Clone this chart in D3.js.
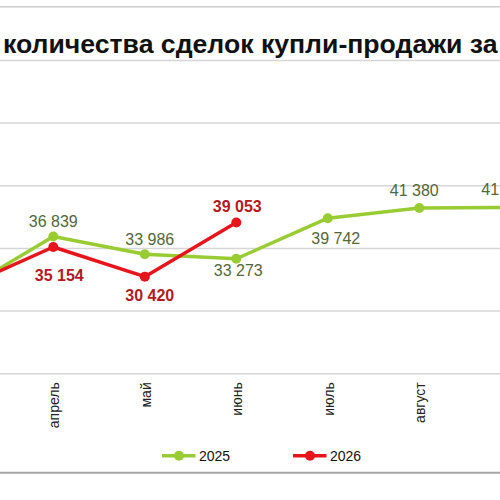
<!DOCTYPE html>
<html>
<head>
<meta charset="utf-8">
<script src="https://cdn.jsdelivr.net/npm/d3@7"></script>
<style>
  html, body { margin: 0; padding: 0; background: #fff; }
  svg { display: block; font-family: "Liberation Sans", Arial, sans-serif; }
</style>
</head>
<body>
<svg id="chart" width="500" height="500"></svg>
<script>
// ---- data (visible part of the chart) ----
const months = ["март", "апрель", "май", "июнь", "июль", "август", "сентябрь"];
const values2025 = [28100, 36839, 33986, 33273, 39742, 41380, 41470];
const values2026 = [28600, 35154, 30420, 39053, null, null, null];
const seriesNames = ["2025", "2026"];
const yTicks = [15000, 25000, 35000, 45000, 55000, 65000];
const titleText = "количества сделок купли-продажи за";

// ---- drawing ----
const svg = d3.select("#chart");
const W = 500, H = 500;

const x = d3.scalePoint().domain(months).range([-38.2, 510.8]);
const y = d3.scaleLinear().domain([15000, 65000]).range([373.3, 59.9]);

const colors = { "2025": "#99cc33", "2026": "#e8141b" };
const labelColors = { "2025": "#55663a", "2026": "#b3191f" };

// frame lines of the picture
svg.append("line").attr("x1", 0).attr("x2", W).attr("y1", 6.8).attr("y2", 6.8)
  .attr("stroke", "#cccccc").attr("stroke-width", 1.5);
svg.append("line").attr("x1", 0).attr("x2", W).attr("y1", 472.8).attr("y2", 472.8)
  .attr("stroke", "#a6a6a6").attr("stroke-width", 2);

// gridlines via axis
const yAxis = d3.axisLeft(y).tickValues(yTicks).tickSize(-W - 20).tickFormat("");
const gy = svg.append("g").attr("transform", "translate(-10,0)").call(yAxis);
gy.select(".domain").remove();
gy.selectAll(".tick line").attr("stroke", "#d6d6d6").attr("stroke-width", 1.5);

// x axis labels (only those whose tick falls inside the visible frame)
const visibleMonths = months.filter(m => x(m) >= 0 && x(m) <= W);
const xAxis = d3.axisBottom(x).tickValues(visibleMonths).tickSize(0).tickPadding(0);
const gx = svg.append("g").attr("transform", "translate(0,373.3)").call(xAxis);
gx.select(".domain").remove();
gx.selectAll(".tick text")
  .attr("transform", "rotate(-90)")
  .attr("x", -9).attr("y", 0).attr("dy", "0.4em")
  .attr("text-anchor", "end")
  .attr("font-size", 14)
  .attr("font-family", "'Liberation Sans', Arial, sans-serif")
  .attr("fill", "#222");

// title
const title = svg.append("text").attr("x", 3).attr("y", 52.5)
  .attr("font-size", 26).attr("font-weight", "bold").attr("fill", "#111")
  .text(titleText);
const tl = title.node().getComputedTextLength();
title.attr("font-size", 26 * 495 / tl);

// series
const series = [
  { name: seriesNames[0], values: values2025 },
  { name: seriesNames[1], values: values2026 }
];
const line = d3.line()
  .defined(d => d.v != null)
  .x(d => x(d.m)).y(d => y(d.v));

// label nudges (dx, dy from the point to the label baseline)
const nudges = {
  "2025": [[0, -9], [0, -9], [5, -9], [2, 17], [8, 26], [-5, -12], [-5, -12]],
  "2026": [[6, 34], [6, 34], [5, 24], [1, -11], [0, 0], [0, 0], [0, 0]]
};

series.forEach(s => {
  const pts = months.map((m, i) => ({ m, v: s.values[i], i }));
  const g = svg.append("g");
  g.append("path").datum(pts).attr("d", line)
    .attr("fill", "none").attr("stroke", colors[s.name])
    .attr("stroke-width", 3.5).attr("stroke-linejoin", "round");
  const valid = pts.filter(d => d.v != null);
  g.selectAll("circle").data(valid).join("circle")
    .attr("cx", d => x(d.m)).attr("cy", d => y(d.v)).attr("r", 5)
    .attr("fill", colors[s.name]);
  s.valid = valid;
});

const fmt = v => d3.format(",")(v).replace(/,/g, " ");
series.forEach(s => {
  // labels of points lying fully left of the frame are not drawn
  const shown = s.valid.filter(d => x(d.m) >= 0);
  svg.append("g").selectAll("text").data(shown).join("text")
    .attr("x", d => x(d.m) + nudges[s.name][d.i][0])
    .attr("y", d => y(d.v) + nudges[s.name][d.i][1])
    .attr("text-anchor", "middle")
    .attr("font-size", 16)
    .attr("font-weight", s.name === "2026" ? "bold" : "normal")
    .attr("fill", labelColors[s.name])
    .text(d => fmt(d.v));
});

// legend
const legendX = [162, 293];
series.forEach((s, i) => {
  const lg = svg.append("g").attr("transform", `translate(${legendX[i]},455.7)`);
  lg.append("line").attr("x1", 0).attr("x2", 33.5).attr("y1", 0).attr("y2", 0)
    .attr("stroke", colors[s.name]).attr("stroke-width", 3.5);
  lg.append("circle").attr("cx", 17).attr("cy", 0).attr("r", 5).attr("fill", colors[s.name]);
  lg.append("text").attr("x", 37).attr("y", 5).attr("font-size", 14)
    .attr("fill", "#111").text(s.name);
});
</script>
</body>
</html>
